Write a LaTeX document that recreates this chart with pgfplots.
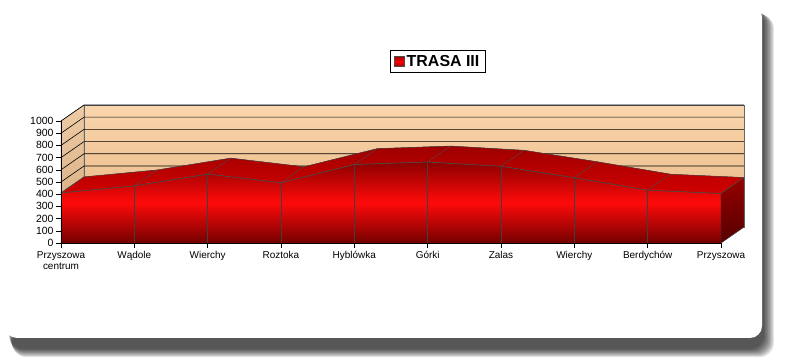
\documentclass[border=0pt]{standalone}
\usepackage{pgfplots}
\usepackage{pgfplotstable}
\pgfplotsset{compat=1.18}
\usepgfplotslibrary{fillbetween}
\usepackage{fontspec}
\setmainfont{Liberation Sans}
\definecolor{wallTop}{RGB}{250,214,172}
\definecolor{wallBot}{RGB}{230,180,130}
\definecolor{sideTop}{RGB}{238,204,166}
\definecolor{sideBot}{RGB}{210,165,120}
\definecolor{frontTop}{RGB}{140,0,0}
\definecolor{frontMid}{RGB}{255,10,10}
\definecolor{frontBot}{RGB}{115,0,0}
\definecolor{endTop}{RGB}{150,0,0}
\definecolor{endBot}{RGB}{85,0,0}
\definecolor{floorGray}{RGB}{165,165,165}

\pgfplotstableread{
x y
0 411
1 468
2 565
3 494
4 643
5 664
6 629
7 535
8 433
9 406
}\trasa

\begin{document}
\begin{tikzpicture}
\path (0bp,0bp) rectangle (785bp,361bp);
% shadow
\foreach \i in {0,...,9}{
  \fill[black,opacity=0.1,rounded corners=14bp]
    ({(9+\i*0.35)*1bp},{(12-\i*0.9)*1bp}) rectangle ({(764+\i*1.1)*1bp},{(352-\i*0.6)*1bp});
}
\fill[white,rounded corners=12bp] (5bp,23bp) rectangle (762bp,356bp);
\begin{axis}[
  at={(61bp,118bp)}, anchor=south west,
  scale only axis, width=660bp, height=122bp,
  xmin=0, xmax=9, ymin=0, ymax=1000,
  clip=false, axis on top,
  axis x line=bottom, axis y line=left,
  axis line style={-, black},
  xtick={0,...,9},
  xticklabels={{Przyszowa\\centrum},W\k{a}dole,Wierchy,Roztoka,Hyblówka,Górki,Zalas,Wierchy,Berdychów,Przyszowa},
  xticklabel style={align=center, font=\fontsize{10}{11.5}\selectfont, text depth=0pt},
  ytick={0,100,...,1000},
  yticklabel style={font=\fontsize{10.5}{12}\selectfont, xshift=1bp},
  /pgf/number format/assume math mode=true,
  /pgf/number format/1000 sep={},
  tick align=outside, major tick length=5bp,
  tick style={black, thin},
  legend style={at={(0.571,1.488)}, anchor=center, draw=black, fill=white,
    font=\fontsize{16}{18}\selectfont\bfseries, inner xsep=4bp, inner ysep=2.5bp,
    legend cell align=left},
  legend image code/.code={\draw[black!70, top color=red!60!black, bottom color=red!60!black, middle color=red, shading=axis] (0bp,-5bp) rectangle (10bp,5bp);},
]
% back wall
\addplot[forget plot, draw=black!60, top color=wallTop, bottom color=wallBot, shading=axis]
  coordinates {(0.3136,131) (9.3136,131) (9.3136,1131) (0.3136,1131)} -- cycle;
% side wall
\addplot[forget plot, draw=black!60, top color=sideTop, bottom color=sideBot, shading=axis]
  coordinates {(0,0) (0.3136,131) (0.3136,1131) (0,1000)} -- cycle;
% floor
\addplot[forget plot, draw=black!60, fill=floorGray]
  coordinates {(0,0) (9,0) (9.3136,131) (0.3136,131)} -- cycle;
% grid lines on walls
\pgfplotsinvokeforeach{0,100,...,1000}{
  \draw[black, line width=0.6pt] (axis cs:0,#1) -- ([shift={(23bp,16bp)}]axis cs:0,#1) -- ([shift={(23bp,16bp)}]axis cs:9,#1);
}
% front face
\addplot[name path=front, draw=none, top color=frontTop, bottom color=frontBot, middle color=frontMid, shading=axis]
  table[x=x,y=y]{\trasa} \closedcycle;
\addlegendentry{TRASA III}
% back edge
\addplot[forget plot, name path=back, draw=none]
  table[x expr=\thisrow{x}+0.3136, y expr=\thisrow{y}+131]{\trasa};
\addplot[forget plot, name path=fronttop, draw=none] table[x=x,y=y]{\trasa};
% top band
\addplot[forget plot, top color=red!62!black, bottom color=red!82!black, shading=axis, draw=black!70, line width=0.4pt] fill between[of=fronttop and back, on layer=main];
% segment separators on top
\addplot[forget plot, black!70, line width=0.4pt, quiver={u=0.3136, v=131}, -] table[x=x,y=y]{\trasa};
% vertical separators on front
\addplot[forget plot, ycomb, black!75, line width=0.4pt, mark=none] table[x=x,y=y]{\trasa};
\addplot[forget plot, black!70, line width=0.4pt, mark=none] table[x=x,y=y]{\trasa};
% right end face
\addplot[forget plot, draw=black!70, line width=0.4pt, top color=endTop, bottom color=endBot, shading=axis]
  coordinates {(9,0) (9,406) (9.3136,537) (9.3136,131)} -- cycle;
\end{axis}
\end{tikzpicture}
\end{document}
